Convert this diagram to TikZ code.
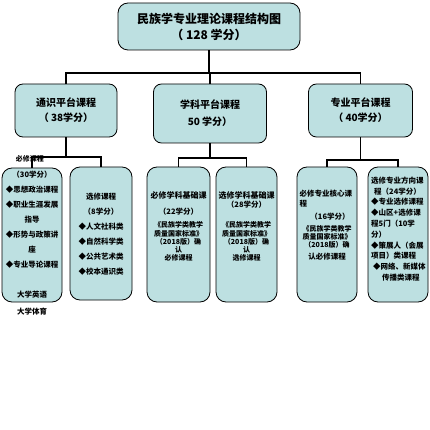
\documentclass[tikz,border=0pt]{standalone}
\usepackage{fontspec}
\newfontfamily\cjk{Noto Sans CJK SC}
\definecolor{boxfill}{HTML}{BDE0E1}

\begin{document}
\begin{tikzpicture}[x=1pt,y=-1pt,
	box/.style={draw=black,line width=0.8pt,fill=boxfill,rounded corners=10pt,inner sep=0pt},
	link/.style={line width=1.8pt},
	txt/.style={inner sep=0pt,align=center,font=\cjk\bfseries\fontsize{7.5}{15}\selectfont}]
						\useasboundingbox (0,0) rectangle (430,430);
						
						\node[box,minimum width=182pt,minimum height=47pt,align=center,font=\cjk\bfseries\fontsize{12}{16}\selectfont](T) at (209,26.5){民族学专业理论课程结构图\\（ 128 学分）};
						
						\node[box,rounded corners=8pt,minimum width=102pt,minimum height=53pt,align=center,font=\cjk\bfseries\fontsize{10}{15}\selectfont](P1) at (66,110.5){通识平台课程\\（ 38学分）};
						
						\node[box,rounded corners=8pt,minimum width=113pt,minimum height=59pt,align=center,font=\cjk\bfseries\fontsize{10}{17}\selectfont](P2) at (210,113.5){学科平台课程\\50 学分）};
						
						\node[box,rounded corners=8pt,minimum width=104pt,minimum height=53pt,align=center,font=\cjk\bfseries\fontsize{10}{15}\selectfont](P3) at (360.5,110.5){专业平台课程\\（ 40学分）};
						
						\foreach \nm/\cx/\cy/\w/\h in {A/32/235/60/134,B/101/233.5/62/133,C/178.5/234.5/63/135,D/246.5/234.5/61/135,E/327/234.5/60/135,F/398/234.5/60/135}
							\node[box,minimum width=\w pt,minimum height=\h pt](\nm) at (\cx,\cy){};
						
						\coordinate (J) at (209,73);
						\coordinate (J1) at (P1.south |- 0,157);
						\coordinate (J2) at (P2.south |- 0,158);
						\coordinate (J3) at (P3.south |- 0,160);
						
						\draw[link] (T.south) -- (J);
						\draw[link] (P1.north) |- (J) -| (P3.north);
						\draw[link] (J -| P2.north) -- (P2.north);
						\draw[link] (P1.south) -- (J1);
						\draw[link] (A.north) |- (J1) -| (B.north);
						\draw[link] (P2.south) -- (J2);
						\draw[link] (C.north) |- (J2) -| (D.north);
						\draw[link] (P3.south) -- (J3);
						\draw[link] (E.north) |- (J3) -| (F.north);
						
						\node[txt,font=\cjk\bfseries\fontsize{7}{10}\selectfont](Areq) at (30,159){必修课程};
						\node[txt,anchor=north](Atext) at (32,171.3){（30学分）\\◆思想政治课程\\◆职业生涯发展\\指导\\◆形势与政策讲\\座\\◆专业导论课程};
						\node[txt](Aeng) at (32,295){大学英语};
						\node[txt](Ape) at (32,312){大学体育};
						
						\node[txt,anchor=north](Btext) at (101,193.3){选修课程\\（8学分）\\◆人文社科类\\◆自然科学类\\◆公共艺术类\\◆校本通识类};
						
						\node[txt,font=\cjk\bfseries\fontsize{8}{10}\selectfont](Chead) at (178.5,195){必修学科基础课};
						\node[txt](Ccred) at (178.5,212){（22学分）};
						\node[txt,anchor=north,font=\cjk\bfseries\fontsize{7}{8.3}\selectfont](Ctext) at (178.5,221.5){《民族学类教学\\质量国家标准》\\（2018版）确\\认\\必修课程};
						
						\node[txt,font=\cjk\bfseries\fontsize{8}{10}\selectfont](Dhead) at (246.5,195){选修学科基础课};
						\node[txt](Dcred) at (246.5,205){（28学分）};
						\node[txt,anchor=north,font=\cjk\bfseries\fontsize{7}{8.3}\selectfont](Dtext) at (246.5,221.5){《民族学类教学\\质量国家标准》\\（2018版）确\\认\\选修课程};
						
						\node[txt,anchor=north west,align=left,font=\cjk\bfseries\fontsize{7.5}{10}\selectfont](Ehead) at (299.5,189.3){必修专业核心课\\程};
						\node[txt](Ecred) at (330,217){（16学分）};
						\node[txt,anchor=north,font=\cjk\bfseries\fontsize{7}{7.8}\selectfont](Etext) at (327,225.5){《民族学类教学\\质量国家标准》\\（2018版）确};
						\node[txt](Eend) at (327,257){认必修课程};
						
						\node[txt,anchor=north west,align=left,font=\cjk\bfseries\fontsize{7.5}{10.8}\selectfont](Ftext) at (371,176.5){选修专业方向课\\\hspace{3pt}程（24学分）\\◆专业选修课程\\◆山区+选修课\\程5门（10学\\分）\\◆策展人（会展\\项目）类课程\\\hspace{2pt}◆网络、新媒体\\\hspace{11pt}传播类课程};
					\end{tikzpicture}
\end{document}
